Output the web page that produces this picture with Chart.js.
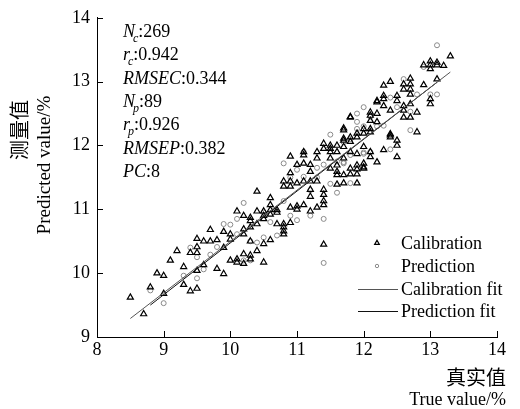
<!DOCTYPE html>
<html>
<head>
<meta charset="utf-8">
<script src="https://cdn.jsdelivr.net/npm/chart.js@4.4.0/dist/chart.umd.min.js"></script>
<style>
  html, body { margin: 0; padding: 0; background: #fff; }
  #wrap { width: 520px; height: 409px; position: relative; }
</style>
</head>
<body>
<div id="wrap"><canvas id="chart"></canvas></div>
<script>
const calTrue = [8.5, 8.7, 8.8, 8.9, 9.0, 9.1, 9.2, 9.3, 9.4, 9.5, 9.6, 9.7, 9.8, 9.9, 10.0,
  10.1, 10.2, 10.3, 10.4, 10.5, 10.6, 10.7, 10.8, 10.9, 11.0, 11.1, 11.2, 11.3, 11.4, 11.5,
  11.6, 11.7, 11.8, 11.9, 12.0, 12.1, 12.2, 12.3, 12.4, 12.5, 12.6, 12.7, 12.8, 12.9, 13.0,
  13.1, 13.2, 13.3];
const calPred = [
  [9.62], [9.36], [9.78], [10.0], [9.96, 9.68], [10.2], [10.35], [10.1, 9.82], [10.32, 9.72],
  [10.54, 10.41, 10.32, 10.04, 9.76], [10.5, 10.13], [10.68, 10.5], [10.52, 10.07],
  [10.65, 10.4, 9.99], [10.61, 10.53, 10.2],
  [10.97, 10.22, 10.17], [10.9, 10.69, 10.61, 10.3, 10.15], [10.87, 10.82, 10.72, 10.5, 10.28, 10.22],
  [11.28, 10.97, 10.77, 10.35], [10.97, 10.9, 10.85, 10.46, 10.17], [11.18, 11.07, 10.99, 10.92, 10.52],
  [10.99, 10.95, 10.77], [11.44, 11.36, 10.77, 10.72, 10.66, 10.61], [11.83, 11.57, 11.44, 11.36, 11.03, 10.79],
  [11.7, 11.41, 11.05, 11.0], [11.9, 11.85, 11.72, 11.44, 11.07], [11.7, 11.59, 11.44, 11.31, 11.2, 10.97],
  [11.9, 11.8, 11.44, 11.03], [12.03, 11.95, 11.31, 11.23, 11.13, 11.07, 10.45], [12.0, 11.95, 11.9, 11.8, 11.64],
  [12.0, 11.9, 11.69, 11.59, 11.54, 11.39], [12.27, 12.24, 12.11, 12.08, 11.98, 11.8, 11.54, 11.41],
  [12.45, 12.44, 12.13, 12.06, 11.9, 11.64, 11.55], [12.19, 12.13, 11.87, 11.69, 11.63, 11.55, 11.41],
  [12.26, 12.19, 11.98, 11.72, 11.66, 11.64], [12.52, 12.47, 12.39, 12.26, 12.21, 11.9, 11.82],
  [12.7, 12.68, 12.5, 12.37, 11.74], [12.94, 12.78, 12.73, 12.62, 11.93], [13.0, 12.55, 12.18, 12.16, 12.13],
  [12.78, 12.7, 12.08, 12.0, 11.82], [12.96, 12.88, 12.62, 12.55, 12.44], [13.05, 12.96, 12.88, 12.8, 12.65, 12.44],
  [12.52, 12.21], [13.26, 12.95], [13.32, 13.26, 13.2, 12.73, 12.65], [13.3, 13.26, 13.04], [13.25], [13.4]
];

const preTrue = [8.8, 9.0, 9.3, 9.4, 9.5, 9.6, 9.7, 9.8, 9.9, 10.0, 10.1, 10.2, 10.3, 10.4, 10.5,
  10.6, 10.7, 10.8, 10.9, 11.0, 11.1, 11.2, 11.3, 11.4, 11.5, 11.6, 11.7, 11.8, 11.9, 12.0,
  12.1, 12.2, 12.3, 12.4, 12.5, 12.6, 12.7, 12.8, 12.9, 13.0, 13.1];
const prePred = [
  [9.73], [9.53], [9.96], [10.4], [10.25, 9.92], [10.06], [10.29], [10.41], [10.77], [10.76],
  [10.85, 10.61], [11.1, 10.2], [10.5, 10.2], [10.48], [10.95, 10.56],
  [10.8], [10.59], [11.72, 11.13], [11.5, 10.9], [11.62, 10.83], [11.9, 11.51], [11.3, 10.9],
  [11.65, 11.5], [11.7, 10.85, 10.16], [12.17, 11.4], [11.75, 11.26], [12.05, 11.74, 11.72],
  [12.1, 11.85, 11.41], [12.5, 12.37, 12.26], [12.6, 12.3, 11.89, 11.87],
  [12.45, 11.9], [12.3], [12.31], [12.75, 11.94], [12.6], [13.04], [12.53, 12.24], [12.8],
  [13.23], [12.8], [13.57, 12.8]
];

// fitted lines, end points
const calFitX = [8.5, 13.3];
const calFitY = [9.29, 13.15];
const preFitX = [8.8, 13.1];
const preFitY = [9.5, 12.99];

const xTicks = [8, 9, 10, 11, 12, 13, 14];
const yTicks = [9, 10, 11, 12, 13, 14];

const statLines = [
  { it: "N", sub: "c", rest: ":269" },
  { it: "r", sub: "c", rest: ":0.942" },
  { it: "RMSEC", sub: "", rest: ":0.344" },
  { it: "N", sub: "p", rest: ":89" },
  { it: "r", sub: "p", rest: ":0.926" },
  { it: "RMSEP", sub: "", rest: ":0.382" },
  { it: "PC", sub: "", rest: ":8" }
];
const legendLabels = ["Calibration", "Prediction", "Calibration fit", "Prediction fit"];

function flatten(xs, ys) {
  const pts = [];
  xs.forEach((x, i) => ys[i].forEach((y) => pts.push({ x: x, y: y })));
  return pts;
}
function pairs(xs, ys) {
  return xs.map((x, i) => ({ x: x, y: ys[i] }));
}

const SERIF = "'Liberation Serif', 'Times New Roman', serif";
const CJK = "'Noto Sans CJK SC', sans-serif";

Chart.defaults.font.family = SERIF;
Chart.defaults.font.size = 18;
Chart.defaults.color = "#000";

const extras = {
  id: "extras",
  afterDraw(chart) {
    const ctx = chart.ctx;
    const xs = chart.scales.x, ys = chart.scales.y;
    const area = chart.chartArea;
    ctx.save();

    // inward tick marks
    ctx.strokeStyle = "#000";
    ctx.lineWidth = 1;
    ctx.beginPath();
    xTicks.forEach((v) => {
      const px = Math.round(xs.getPixelForValue(v)) + 0.5;
      ctx.moveTo(px, area.bottom);
      ctx.lineTo(px, area.bottom - 6);
    });
    yTicks.forEach((v) => {
      const py = Math.round(ys.getPixelForValue(v)) + 0.5;
      ctx.moveTo(area.left, py);
      ctx.lineTo(area.left + 6, py);
    });
    ctx.stroke();

    // statistics block
    ctx.fillStyle = "#000";
    ctx.textBaseline = "alphabetic";
    ctx.textAlign = "left";
    statLines.forEach((s, i) => {
      const y = 37 + i * 23.3;
      let x = 123;
      ctx.font = "italic 18px " + SERIF;
      ctx.fillText(s.it, x, y);
      x += ctx.measureText(s.it).width;
      if (s.sub) {
        ctx.font = "italic 12px " + SERIF;
        ctx.fillText(s.sub, x - 2, y + 5);
        x += ctx.measureText(s.sub).width - 2;
      }
      ctx.font = "18px " + SERIF;
      ctx.fillText(s.rest, x, y);
    });

    // legend
    const rows = [243, 266, 289, 311];
    ctx.textBaseline = "middle";
    chart.data.datasets.forEach((ds, i) => {
      const y = rows[i];
      if (ds.showLine) {
        ctx.strokeStyle = ds.borderColor;
        ctx.lineWidth = ds.borderWidth;
        ctx.beginPath();
        ctx.moveTo(358, y + 0.5);
        ctx.lineTo(398, y + 0.5);
        ctx.stroke();
      } else {
        ctx.fillStyle = "rgba(255,255,255,0)";
        ctx.strokeStyle = ds.borderColor;
        ctx.lineWidth = ds.borderWidth;
        Chart.helpers.drawPoint(ctx, {
          pointStyle: ds.pointStyle,
          radius: ds.pointRadius - 0.8,
          borderWidth: ds.borderWidth,
          rotation: 0
        }, 377, y);
      }
      ctx.fillStyle = "#000";
      ctx.font = "18px " + SERIF;
      ctx.fillText(legendLabels[i], 401, y + 1);
    });

    // axis titles
    ctx.textAlign = "right";
    ctx.font = "20px " + CJK;
    ctx.fillText("真实值", 506, 377);
    ctx.font = "18px " + SERIF;
    ctx.fillText("True value/%", 506, 400);

    ctx.textAlign = "center";
    ctx.save();
    ctx.translate(19, 130);
    ctx.rotate(-Math.PI / 2);
    ctx.font = "20px " + CJK;
    ctx.fillText("测量值", 0, 0);
    ctx.restore();
    ctx.save();
    ctx.translate(45, 165);
    ctx.rotate(-Math.PI / 2);
    ctx.font = "19px " + SERIF;
    ctx.fillText("Predicted value/%", 0, 0);
    ctx.restore();

    ctx.restore();
  }
};

new Chart(document.getElementById("chart"), {
  type: "scatter",
  data: {
    datasets: [
      {
        label: "Calibration",
        data: flatten(calTrue, calPred),
        pointStyle: "triangle",
        pointRadius: 3.5,
        borderColor: "#000",
        backgroundColor: "rgba(255,255,255,0)",
        borderWidth: 1.2,
        order: 1
      },
      {
        label: "Prediction",
        data: flatten(preTrue, prePred),
        pointStyle: "circle",
        pointRadius: 2.5,
        borderColor: "#8a8a8a",
        backgroundColor: "rgba(255,255,255,0)",
        borderWidth: 1,
        order: 2
      },
      {
        label: "Calibration fit",
        data: pairs(calFitX, calFitY),
        showLine: true,
        pointRadius: 0,
        borderColor: "#555",
        borderWidth: 1,
        order: 0
      },
      {
        label: "Prediction fit",
        data: pairs(preFitX, preFitY),
        showLine: true,
        pointRadius: 0,
        borderColor: "#111",
        borderWidth: 1,
        order: 0
      }
    ]
  },
  options: {
    responsive: true,
    maintainAspectRatio: false,
    animation: false,
    layout: { padding: { left: 60, top: 15, right: 23, bottom: 47 } },
    plugins: { legend: { display: false }, tooltip: { enabled: false } },
    scales: {
      x: {
        type: "linear",
        min: 8,
        max: 14,
        afterFit: (s) => { s.height = 25; },
        afterBuildTicks: (s) => { s.ticks = xTicks.map((v) => ({ value: v })); },
        ticks: { padding: 2, color: "#000", font: { size: 18 } },
        grid: { display: false, drawTicks: false },
        border: { display: true, color: "#000", width: 1 }
      },
      y: {
        type: "linear",
        min: 9,
        max: 14,
        afterFit: (s) => { s.width = 37; },
        afterBuildTicks: (s) => { s.ticks = yTicks.map((v) => ({ value: v })); },
        ticks: { padding: 7, color: "#000", font: { size: 18 } },
        grid: { display: false, drawTicks: false },
        border: { display: true, color: "#000", width: 1 }
      }
    }
  },
  plugins: [extras]
});
</script>
</body>
</html>
